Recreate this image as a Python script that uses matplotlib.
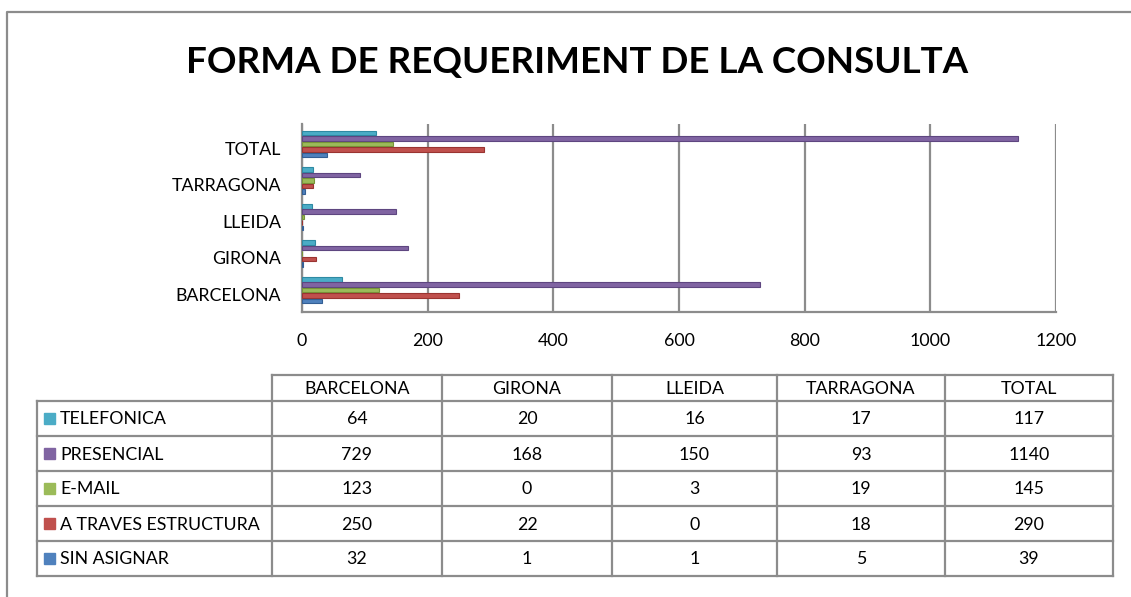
import numpy as np
import matplotlib.pyplot as plt
from matplotlib.patches import Rectangle
import matplotlib.transforms as mtransforms

plt.rcParams['font.family'] = ['Lato', 'DejaVu Sans']

title = "FORMA DE REQUERIMENT DE LA CONSULTA"
provinces = ["BARCELONA", "GIRONA", "LLEIDA", "TARRAGONA", "TOTAL"]
series = ["TELEFONICA", "PRESENCIAL", "E-MAIL", "A TRAVES ESTRUCTURA", "SIN ASIGNAR"]
telefonica = [64, 20, 16, 17, 117]
presencial = [729, 168, 150, 93, 1140]
email = [123, 0, 3, 19, 145]
estructura = [250, 22, 0, 18, 290]
sin_asignar = [32, 1, 1, 5, 39]
colors = ["#4BACC6", "#8064A2", "#9BBB59", "#C0504D", "#4F81BD"]
edges = ["#2E8AA3", "#5E4680", "#779538", "#9A3431", "#345F94"]

values = [telefonica, presencial, email, estructura, sin_asignar]

W, H = 1131, 597
fig = plt.figure(figsize=(W / 100, H / 100), dpi=100)
grid_col = "#8c8c8c"
fs = 12.8


def px_axes(x0, y0, x1, y1):
    return fig.add_axes([x0 / W, 1 - y1 / H, (x1 - x0) / W, (y1 - y0) / H])


# background layer for border, title and table
bg = fig.add_axes([0, 0, 1, 1])
bg.set_xlim(0, W)
bg.set_ylim(H, 0)
bg.axis("off")
bg.plot([7, 7, W + 5], [H + 5, 12, 12], color=grid_col, lw=1.6, solid_capstyle="butt")
bg.text(577, 62, title, ha="center", va="center", fontsize=26.5, fontweight="bold")

# bar chart
ax = px_axes(302, 124, 1056, 312)
y = np.arange(len(provinces))
step, h = 0.15, 0.13
for i, (vals, c, ec) in enumerate(zip(values, colors, edges)):
    ax.barh(y + (2 - i) * step, vals, height=h, color=c, edgecolor=ec, linewidth=0.8, zorder=3)
ax.set_xlim(0, 1200)
ax.set_ylim(-0.6, 4.55)
ax.set_xticks(np.arange(0, 1201, 200))
ax.set_yticks(y)
ax.set_yticklabels(provinces)
ax.grid(axis="x", color=grid_col, lw=1.6, zorder=0)
ax.tick_params(length=0, labelsize=fs)
ax.tick_params(axis="x", pad=15)
ax.tick_params(axis="y", pad=15)
for lab in ax.get_yticklabels():
    lab.set_transform(lab.get_transform() + mtransforms.ScaledTranslation(0, -4 / 100, fig.dpi_scale_trans))
for s in ["top", "right"]:
    ax.spines[s].set_visible(False)
for s in ["left", "bottom"]:
    ax.spines[s].set_color(grid_col)
    ax.spines[s].set_linewidth(1.6)

# data table
col_x = [37, 272, 442, 612, 777, 945, 1113]
head_top, row_top, row_h = 375, 401, 35
tl = dict(color=grid_col, lw=1.6, solid_capstyle="projecting")
n_rows = len(series)
bottom = row_top + n_rows * row_h
bg.plot([col_x[1], col_x[-1]], [head_top, head_top], **tl)
for r in range(n_rows + 1):
    yy = row_top + r * row_h
    bg.plot([col_x[0], col_x[-1]], [yy, yy], **tl)
bg.plot([col_x[0], col_x[0]], [row_top, bottom], **tl)
for cx in col_x[1:]:
    bg.plot([cx, cx], [head_top, bottom], **tl)

for j, p in enumerate(provinces):
    xc = (col_x[j + 1] + col_x[j + 2]) / 2
    bg.text(xc, (head_top + row_top) / 2 + 1, p, ha="center", va="center", fontsize=fs)
for r, (name, vals, c) in enumerate(zip(series, values, colors)):
    yc = row_top + r * row_h + row_h / 2
    bg.add_patch(Rectangle((44, yc - 5.5), 11, 11, color=c))
    bg.text(60, yc + 1, name, ha="left", va="center", fontsize=fs)
    for j, v in enumerate(vals):
        xc = (col_x[j + 1] + col_x[j + 2]) / 2
        bg.text(xc, yc + 1, str(v), ha="center", va="center", fontsize=fs)

fig.savefig("out.png", dpi=100)
